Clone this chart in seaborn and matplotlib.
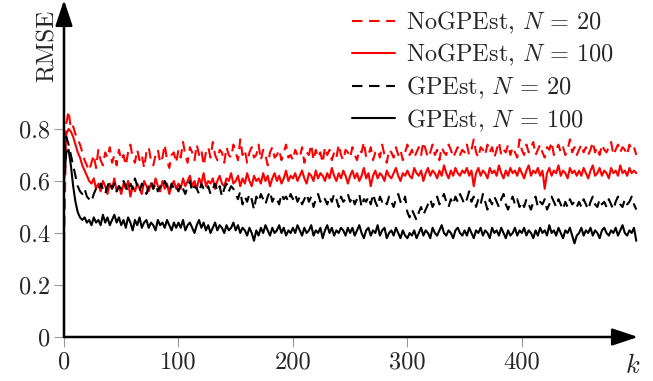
import numpy as np
import pandas as pd
import matplotlib
matplotlib.use('Agg')
import matplotlib.pyplot as plt
import seaborn as sns

# RMSE, one value every 2 steps of k (k = 0, 2, ..., 500)
k_step = 2

nogp_20 = [
    0.36, 0.82, 0.87, 0.80, 0.81, 0.78, 0.76, 0.74, 0.71, 0.68, 0.66, 0.64, 0.67, 0.70, 0.65, 0.72, 0.68, 0.66, 0.71, 0.69, 0.73, 0.67, 0.70, 0.66, 0.72,
    0.68, 0.70, 0.66, 0.71, 0.74, 0.69, 0.67, 0.72, 0.68, 0.70, 0.65, 0.71, 0.73, 0.68, 0.66, 0.70, 0.72, 0.67, 0.69, 0.74, 0.68, 0.65, 0.70, 0.71, 0.67,
    0.72, 0.69, 0.75, 0.70, 0.67, 0.73, 0.71, 0.68, 0.74, 0.70, 0.72, 0.66, 0.71, 0.73, 0.69, 0.75, 0.70, 0.68, 0.72, 0.71, 0.67, 0.73, 0.70, 0.69, 0.74,
    0.71, 0.68, 0.76, 0.70, 0.72, 0.67, 0.71, 0.73, 0.69, 0.70, 0.74, 0.68, 0.72, 0.70, 0.66, 0.71, 0.73, 0.69, 0.70, 0.72, 0.68, 0.71, 0.74, 0.69, 0.70,
    0.68, 0.72, 0.70, 0.69, 0.73, 0.67, 0.71, 0.70, 0.74, 0.68, 0.72, 0.69, 0.71, 0.67, 0.73, 0.70, 0.72, 0.68, 0.71, 0.69, 0.74, 0.70, 0.68, 0.72, 0.71,
    0.69, 0.73, 0.70, 0.68, 0.72, 0.71, 0.75, 0.69, 0.70, 0.73, 0.68, 0.71, 0.72, 0.69, 0.74, 0.70, 0.67, 0.72, 0.71, 0.69, 0.73, 0.70, 0.72, 0.68, 0.71,
    0.74, 0.70, 0.72, 0.69, 0.71, 0.73, 0.70, 0.75, 0.72, 0.69, 0.71, 0.74, 0.70, 0.72, 0.68, 0.73, 0.71, 0.70, 0.74, 0.72, 0.69, 0.71, 0.73, 0.70, 0.72,
    0.71, 0.74, 0.70, 0.72, 0.76, 0.71, 0.69, 0.73, 0.72, 0.70, 0.74, 0.71, 0.73, 0.69, 0.72, 0.75, 0.70, 0.72, 0.71, 0.74, 0.70, 0.73, 0.71, 0.69, 0.76,
    0.72, 0.70, 0.74, 0.71, 0.73, 0.75, 0.70, 0.72, 0.74, 0.71, 0.69, 0.73, 0.72, 0.75, 0.70, 0.72, 0.74, 0.71, 0.73, 0.70, 0.72, 0.76, 0.71, 0.73, 0.70,
    0.72, 0.74, 0.71, 0.73, 0.70, 0.72, 0.75, 0.71, 0.73, 0.70, 0.74, 0.72, 0.71, 0.73, 0.75, 0.70, 0.72, 0.74, 0.71, 0.73, 0.72, 0.70, 0.74, 0.72, 0.73, 0.70,
]

nogp_100 = [
    0.62, 0.78, 0.80, 0.79, 0.77, 0.74, 0.71, 0.69, 0.66, 0.64, 0.62, 0.60, 0.59, 0.61, 0.57, 0.59, 0.56, 0.60, 0.58, 0.55, 0.59, 0.57, 0.61, 0.56, 0.58,
    0.55, 0.59, 0.57, 0.60, 0.54, 0.58, 0.56, 0.59, 0.57, 0.55, 0.60, 0.58, 0.56, 0.59, 0.57, 0.61, 0.58, 0.56, 0.60, 0.57, 0.59, 0.55, 0.58, 0.60, 0.57,
    0.59, 0.57, 0.61, 0.58, 0.60, 0.62, 0.58, 0.60, 0.57, 0.61, 0.59, 0.63, 0.58, 0.60, 0.59, 0.61, 0.57, 0.60, 0.62, 0.59, 0.58, 0.61, 0.60, 0.63, 0.59,
    0.60, 0.62, 0.58, 0.61, 0.59, 0.63, 0.60, 0.58, 0.62, 0.60, 0.61, 0.59, 0.63, 0.60, 0.62, 0.58, 0.61, 0.63, 0.60, 0.62, 0.59, 0.61, 0.64, 0.60, 0.62,
    0.61, 0.63, 0.60, 0.62, 0.64, 0.61, 0.59, 0.63, 0.62, 0.60, 0.64, 0.61, 0.63, 0.62, 0.60, 0.63, 0.61, 0.65, 0.62, 0.60, 0.63, 0.61, 0.64, 0.62, 0.59,
    0.62, 0.64, 0.61, 0.63, 0.60, 0.62, 0.65, 0.61, 0.63, 0.58, 0.62, 0.64, 0.61, 0.63, 0.62, 0.60, 0.64, 0.62, 0.61, 0.63, 0.65, 0.62, 0.60, 0.63, 0.62,
    0.64, 0.62, 0.61, 0.65, 0.63, 0.62, 0.64, 0.60, 0.63, 0.65, 0.62, 0.64, 0.63, 0.61, 0.64, 0.62, 0.66, 0.63, 0.61, 0.64, 0.62, 0.65, 0.63, 0.62, 0.64,
    0.63, 0.65, 0.62, 0.64, 0.58, 0.63, 0.65, 0.62, 0.64, 0.63, 0.61, 0.65, 0.63, 0.64, 0.62, 0.66, 0.63, 0.61, 0.64, 0.62, 0.65, 0.63, 0.64, 0.62, 0.65,
    0.63, 0.61, 0.64, 0.66, 0.62, 0.64, 0.63, 0.65, 0.62, 0.64, 0.57, 0.63, 0.65, 0.62, 0.64, 0.63, 0.66, 0.62, 0.64, 0.63, 0.61, 0.65, 0.63, 0.64, 0.62,
    0.64, 0.62, 0.65, 0.63, 0.61, 0.64, 0.66, 0.62, 0.63, 0.65, 0.62, 0.64, 0.63, 0.61, 0.65, 0.63, 0.64, 0.62, 0.66, 0.63, 0.64, 0.62, 0.65, 0.63, 0.64, 0.63,
]

gp_20 = [
    0.70, 0.77, 0.74, 0.70, 0.66, 0.62, 0.58, 0.56, 0.55, 0.57, 0.54, 0.53, 0.52, 0.55, 0.57, 0.56, 0.59, 0.57, 0.55, 0.58, 0.60, 0.57, 0.59, 0.56, 0.58,
    0.57, 0.60, 0.58, 0.56, 0.59, 0.57, 0.61, 0.58, 0.56, 0.59, 0.57, 0.55, 0.58, 0.60, 0.57, 0.59, 0.56, 0.58, 0.57, 0.60, 0.58, 0.56, 0.59, 0.57, 0.58,
    0.56, 0.59, 0.57, 0.55, 0.58, 0.60, 0.56, 0.58, 0.57, 0.55, 0.59, 0.57, 0.56, 0.58, 0.55, 0.57, 0.59, 0.56, 0.58, 0.54, 0.57, 0.59, 0.56, 0.58, 0.57,
    0.55, 0.53, 0.56, 0.51, 0.54, 0.52, 0.55, 0.53, 0.49, 0.54, 0.52, 0.55, 0.53, 0.51, 0.54, 0.56, 0.52, 0.54, 0.53, 0.51, 0.55, 0.53, 0.54, 0.52, 0.55,
    0.53, 0.55, 0.52, 0.54, 0.51, 0.53, 0.55, 0.52, 0.54, 0.50, 0.53, 0.55, 0.52, 0.54, 0.53, 0.51, 0.54, 0.52, 0.55, 0.53, 0.50, 0.54, 0.52, 0.53, 0.55,
    0.52, 0.54, 0.51, 0.53, 0.55, 0.50, 0.53, 0.52, 0.54, 0.51, 0.55, 0.52, 0.50, 0.54, 0.52, 0.53, 0.51, 0.54, 0.52, 0.50, 0.53, 0.55, 0.52, 0.51, 0.54,
    0.48, 0.46, 0.49, 0.47, 0.45, 0.48, 0.50, 0.47, 0.49, 0.51, 0.53, 0.50, 0.52, 0.54, 0.51, 0.53, 0.55, 0.52, 0.50, 0.53, 0.51, 0.54, 0.52, 0.55, 0.53,
    0.51, 0.53, 0.56, 0.52, 0.54, 0.50, 0.53, 0.51, 0.55, 0.52, 0.49, 0.53, 0.51, 0.54, 0.52, 0.50, 0.53, 0.55, 0.51, 0.49, 0.52, 0.54, 0.51, 0.53, 0.50,
    0.52, 0.50, 0.53, 0.51, 0.49, 0.52, 0.54, 0.50, 0.52, 0.51, 0.53, 0.49, 0.51, 0.54, 0.52, 0.50, 0.53, 0.51, 0.49, 0.52, 0.50, 0.53, 0.51, 0.52, 0.50,
    0.52, 0.50, 0.53, 0.51, 0.49, 0.52, 0.54, 0.51, 0.50, 0.53, 0.51, 0.52, 0.50, 0.53, 0.51, 0.49, 0.52, 0.54, 0.51, 0.50, 0.53, 0.51, 0.52, 0.54, 0.51, 0.49,
]

gp_100 = [
    0.60, 0.71, 0.72, 0.66, 0.58, 0.52, 0.48, 0.46, 0.45, 0.46, 0.44, 0.45, 0.43, 0.46, 0.44, 0.45, 0.43, 0.47, 0.44, 0.46, 0.43, 0.45, 0.47, 0.44, 0.46,
    0.43, 0.45, 0.42, 0.46, 0.44, 0.41, 0.45, 0.43, 0.46, 0.42, 0.44, 0.45, 0.42, 0.44, 0.43, 0.41, 0.45, 0.43, 0.44, 0.42, 0.45, 0.43, 0.41, 0.44, 0.42,
    0.44, 0.42, 0.45, 0.41, 0.43, 0.44, 0.42, 0.40, 0.43, 0.45, 0.42, 0.44, 0.41, 0.43, 0.40, 0.42, 0.44, 0.41, 0.43, 0.42, 0.40, 0.43, 0.41, 0.42, 0.44,
    0.41, 0.43, 0.40, 0.42, 0.41, 0.39, 0.42, 0.40, 0.37, 0.41, 0.39, 0.42, 0.40, 0.43, 0.41, 0.39, 0.42, 0.40, 0.41, 0.43, 0.40, 0.42, 0.39, 0.41, 0.40,
    0.42, 0.40, 0.43, 0.41, 0.39, 0.42, 0.40, 0.41, 0.43, 0.39, 0.41, 0.40, 0.42, 0.38, 0.41, 0.43, 0.40, 0.42, 0.39, 0.41, 0.40, 0.42, 0.41, 0.39, 0.42,
    0.40, 0.42, 0.39, 0.41, 0.43, 0.40, 0.38, 0.41, 0.42, 0.39, 0.41, 0.40, 0.43, 0.39, 0.41, 0.42, 0.38, 0.40, 0.41, 0.39, 0.42, 0.40, 0.38, 0.41, 0.39,
    0.38, 0.40, 0.39, 0.41, 0.38, 0.40, 0.42, 0.39, 0.41, 0.40, 0.38, 0.42, 0.40, 0.39, 0.41, 0.43, 0.40, 0.39, 0.41, 0.40, 0.38, 0.41, 0.42, 0.40, 0.39,
    0.41, 0.39, 0.42, 0.40, 0.38, 0.41, 0.40, 0.42, 0.39, 0.41, 0.40, 0.38, 0.42, 0.40, 0.41, 0.39, 0.42, 0.40, 0.38, 0.41, 0.39, 0.40, 0.42, 0.39, 0.41,
    0.40, 0.42, 0.39, 0.41, 0.40, 0.38, 0.41, 0.39, 0.42, 0.40, 0.41, 0.39, 0.43, 0.40, 0.41, 0.39, 0.42, 0.40, 0.38, 0.41, 0.40, 0.42, 0.39, 0.36, 0.39,
    0.40, 0.42, 0.39, 0.41, 0.40, 0.42, 0.39, 0.41, 0.40, 0.38, 0.41, 0.42, 0.40, 0.39, 0.41, 0.40, 0.42, 0.39, 0.41, 0.43, 0.40, 0.39, 0.41, 0.40, 0.42, 0.37,
]

labels = ['NoGPEst, $N\\,=\\,20$', 'NoGPEst, $N\\,=\\,100$', 'GPEst, $N\\,=\\,20$', 'GPEst, $N\\,=\\,100$']
series = [nogp_20, nogp_100, gp_20, gp_100]
colors = ['red', 'red', 'black', 'black']
dashed = [True, False, True, False]

x_ticks = [0, 100, 200, 300, 400]
y_ticks = [0, 0.2, 0.4, 0.6, 0.8]
y_tick_labels = ['0', '0.2', '0.4', '0.6', '0.8']

frames = []
for name, vals in zip(labels, series):
    frames.append(pd.DataFrame({'k': k_step * np.arange(len(vals)), 'rmse': vals, 'series': name}))
df = pd.concat(frames, ignore_index=True)

sns.set_style('white')
plt.rcParams['font.family'] = ['cmr10', 'DejaVu Serif']
plt.rcParams['mathtext.fontset'] = 'cm'
plt.rcParams['axes.formatter.use_mathtext'] = True
plt.rcParams['font.size'] = 17.5

fig = plt.figure(figsize=(6.53, 3.81), dpi=100)
ax = fig.add_axes([64 / 653, 44 / 381, 574 / 653, 337 / 381])

sns.lineplot(data=df, x='k', y='rmse', hue='series', style='series',
             hue_order=labels, style_order=labels,
             palette=dict(zip(labels, colors)),
             dashes={l: ((5, 3.2) if d else '') for l, d in zip(labels, dashed)},
             estimator=None, lw=1.5, ax=ax)

ax.set_xlim(0, 501.5)
ax.set_ylim(0, 1.296)
ax.set_xticks(x_ticks)
ax.set_xticklabels([str(t) for t in x_ticks])
ax.set_yticks(y_ticks)
ax.set_yticklabels(y_tick_labels)
ax.tick_params(direction='out', length=7, width=0.8, color='#999999', pad=3,
               labelsize=17.5, bottom=True, left=True)

for s in ax.spines.values():
    s.set_visible(False)

# pgfplots-like axis lines with arrow heads
arrow = dict(arrowstyle='-|>,head_length=0.9,head_width=0.3', color='black', lw=1.8, shrinkA=0, shrinkB=0)
ax.annotate('', xy=(1.0, 0), xytext=(0, 0), xycoords='axes fraction', arrowprops=arrow, annotation_clip=False)
ax.annotate('', xy=(0, 1.0), xytext=(0, 0), xycoords='axes fraction', arrowprops=arrow, annotation_clip=False)

ax.set_xlabel('$k$', fontsize=19)
ax.xaxis.set_label_coords(0.99, -0.05)
ax.set_ylabel('RMSE', fontsize=18)
ax.yaxis.set_label_coords(-0.010, 0.864)

handles, labs = ax.get_legend_handles_labels()
ax.legend(handles, labs, loc='upper left', bbox_to_anchor=(350 / 653, 1 - 7 / 381),
          bbox_transform=fig.transFigure, frameon=False, fontsize=17.5,
          handlelength=1.75, handletextpad=0.45, labelspacing=0.25,
          borderpad=0.1, borderaxespad=0)

fig.savefig('out.png', dpi=100)
